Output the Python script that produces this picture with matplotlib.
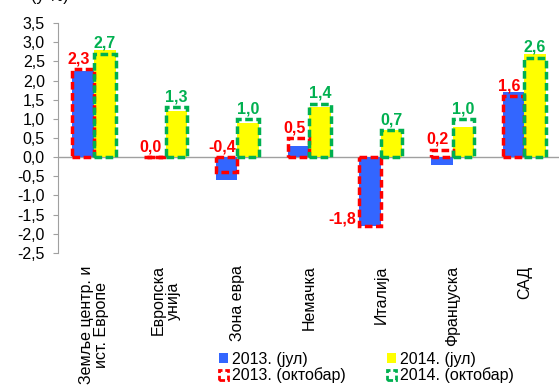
import numpy as np
import matplotlib.pyplot as plt
from matplotlib.patches import Patch

plt.rcParams['font.family'] = ['Liberation Sans', 'DejaVu Sans']

countries = ["Земље центр. и\nист. Европе", "Европска\nунија", "Зона евра",
             "Немачка", "Италија", "Француска", "САД"]
jul_2013 = [2.25, 0.0, -0.6, 0.3, -1.8, -0.2, 1.7]
jul_2014 = [2.8, 1.2, 0.9, 1.3, 0.7, 0.8, 2.7]
okt_2013 = [2.3, 0.0, -0.4, 0.5, -1.8, 0.2, 1.6]
okt_2014 = [2.7, 1.3, 1.0, 1.4, 0.7, 1.0, 2.6]

blue = '#3366FF'
yellow = '#FFFF00'
red = '#FF0000'
green = '#00B050'

fig = plt.figure(figsize=(5.59, 3.85), dpi=100)
ax = fig.add_axes([0.104, 0.343, 0.898, 0.597])

x = np.arange(len(countries))
w = 0.3
xb = x - w / 2
xy = x + w / 2

# July values as solid bars, October values as dashed outlines on top
ax.bar(xb, jul_2013, w, color=blue, zorder=2)
ax.bar(xy, jul_2014, w, color=yellow, zorder=2)
dash = (0, (2.2, 1.0))
ax.bar(xb, okt_2013, w, facecolor='none', edgecolor=red, linewidth=2.5,
       linestyle=dash, zorder=3)
ax.bar(xy, okt_2014, w, facecolor='none', edgecolor=green, linewidth=2.5,
       linestyle=dash, zorder=3)

ax.axhline(0, color='#A0A0A0', linewidth=1, zorder=1)


def fmt(v):
    return f"{v:.1f}".replace('.', ',')


lab = dict(fontsize=11.5, fontweight='bold', textcoords='offset points')
for i in range(len(countries)):
    v = okt_2013[i]
    if v <= -1:
        ax.annotate(fmt(v), (xb[i] - w / 2, v), xytext=(-2, 0), color=red,
                    ha='right', va='bottom', **lab)
    else:
        ax.annotate(fmt(v), (xb[i], max(v, 0)), xytext=(-3, 2), color=red,
                    ha='center', va='bottom', **lab)
    ax.annotate(fmt(okt_2014[i]), (xy[i], okt_2014[i]), xytext=(0, 2),
                color=green, ha='center', va='bottom', **lab)

ax.set_xlim(-0.5, len(countries) - 0.5)
ax.set_ylim(-2.5, 3.5)
ax.set_yticks(np.arange(-2.5, 3.51, 0.5))
ax.set_yticklabels([fmt(t) for t in np.arange(-2.5, 3.51, 0.5)])
ax.set_xticks(x)
ax.set_xticklabels(countries, rotation=90, ha='center', va='top',
                   multialignment='center', linespacing=1.0)
ax.tick_params(axis='x', length=0, pad=9, labelsize=11.5)
ax.tick_params(axis='y', length=3.5, pad=6, labelsize=11.5, color='#A0A0A0')

for s in ['top', 'right', 'bottom']:
    ax.spines[s].set_visible(False)
ax.spines['left'].set_color('#A0A0A0')

fig.text(0.055, 1 - 4 / 385, "(у %)", fontsize=11.5, ha='left', va='bottom')

handles = [
    Patch(facecolor=blue, edgecolor='none', label='2013. (јул)'),
    Patch(facecolor='none', edgecolor=red, linewidth=2, linestyle=(0, (2, 1)),
          label='2013. (октобар)'),
    Patch(facecolor=yellow, edgecolor='none', label='2014. (јул)'),
    Patch(facecolor='none', edgecolor=green, linewidth=2, linestyle=(0, (2, 1)),
          label='2014. (октобар)'),
]
fig.legend(handles=handles, ncol=2, loc='center', bbox_to_anchor=(0.655, 0.045),
           frameon=False, fontsize=11.5, handlelength=0.6, handleheight=0.6,
           handletextpad=0.2, columnspacing=2.6, labelspacing=0.05)

fig.savefig('out.png', dpi=100)
